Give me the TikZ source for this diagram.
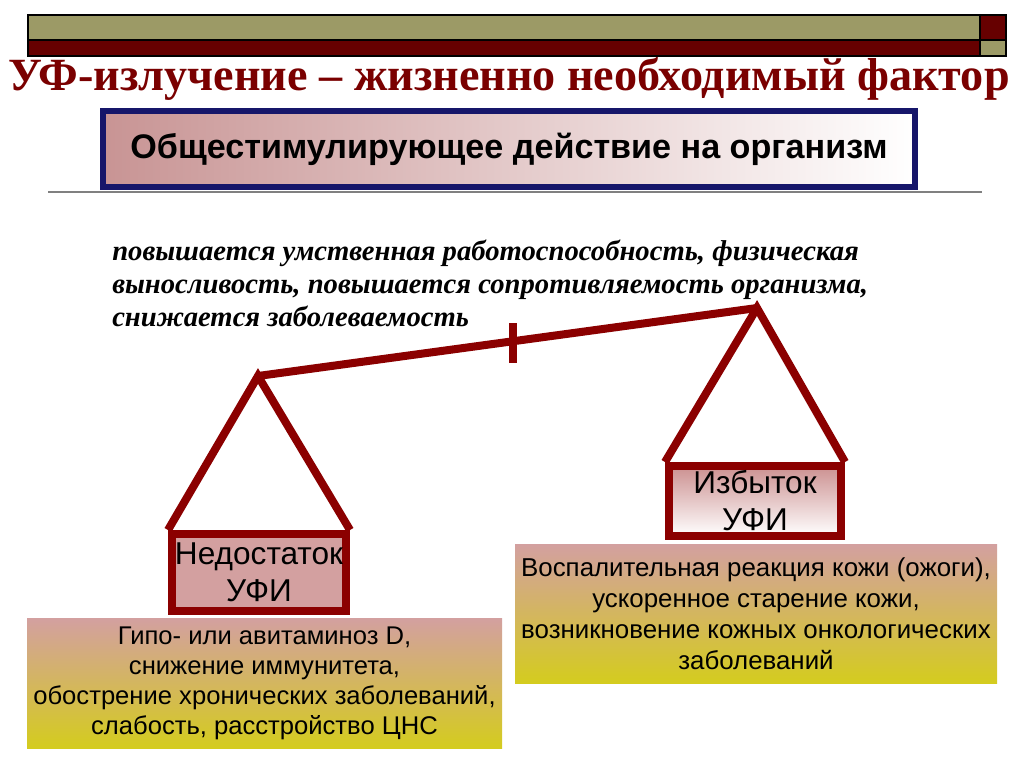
\documentclass[tikz,border=0pt]{standalone}
\usepackage{fontspec}
\setmainfont{Liberation Serif}
\setsansfont{Liberation Sans}
\definecolor{olive}{HTML}{9C9A66}
\definecolor{maroon}{HTML}{660000}
\definecolor{beam}{HTML}{8B0000}
\definecolor{titlered}{HTML}{7A0000}
\definecolor{navy}{HTML}{16166A}
\definecolor{pinkbox}{HTML}{D3A0A0}
\definecolor{yellowbox}{HTML}{D4CC1E}
\definecolor{headpink}{HTML}{C89494}
\tikzset{
  beamline/.style={draw=beam, line width=6pt, line join=miter},
  pan/.style={draw=beam, line width=6pt, font=\sffamily\fontsize{23.7}{27.75}\selectfont, align=center, inner sep=0pt},
  infobox/.style={top color=pinkbox, bottom color=yellowbox, draw=none, font=\sffamily\fontsize{19.2}{22.5}\selectfont, align=center, inner sep=0pt},
}
\begin{document}
\begin{tikzpicture}[x=0.75pt,y=-0.75pt]
\useasboundingbox (0,0) rectangle (1024,767);
% top bar
\fill[olive] (28,15) rectangle (980,40);
\fill[maroon] (980,15) rectangle (1006,40);
\fill[maroon] (28,40) rectangle (980,56);
\fill[olive] (980,40) rectangle (1006,56);
\draw[black, line width=0.8pt] (28,15) rectangle (1006,56) (980,15) -- (980,56) (28,40) -- (1006,40);
% title
\node[text=titlered, font=\bfseries\fontsize{34.6}{40}\selectfont] (title) at (509,79) {УФ-излучение – жизненно необходимый фактор};
% gray line
\draw[gray, line width=0.8pt] (48,192) -- (982,192);
% header box
\node[left color=headpink, right color=white, draw=navy, line width=4.5pt, minimum width=609pt, minimum height=57pt, inner sep=0pt,
      font=\sffamily\bfseries\fontsize{25.6}{30}\selectfont] (head) at (509,149) {Общестимулирующее действие на организм};
% italic text
\node[anchor=north west, align=left, inner sep=0pt, font=\bfseries\itshape\fontsize{21.5}{24.75}\selectfont] (effects) at (112,240)
  {повышается умственная работоспособность, физическая\\выносливость, повышается сопротивляемость организма,\\снижается заболеваемость};
% pans
\node[pan, fill=pinkbox, minimum width=130.5pt, minimum height=57.75pt] (lack) at (259,572.5) {Недостаток\\УФИ};
\node[pan, top color=pinkbox!90!beam, bottom color=white, minimum width=129pt, minimum height=52.5pt] (excess) at (755,501) {Избыток\\УФИ};
% info boxes
\node[infobox, minimum width=356.25pt, minimum height=97.5pt] (lackinfo) at (264.5,683)
  {Гипо- или авитаминоз D,\\снижение иммунитета,\\обострение хронических заболеваний,\\слабость, расстройство ЦНС};
\node[infobox, font=\sffamily\fontsize{19.4}{23.25}\selectfont, minimum width=361.5pt, minimum height=104.25pt] (excessinfo) at (756,613.5)
  {Воспалительная реакция кожи (ожоги),\\ускоренное старение кожи,\\возникновение кожных онкологических\\заболеваний};
% balance
\coordinate (lapex) at (258,376);
\coordinate (rapex) at (757,308);
\coordinate (pivot) at (513,343);
\coordinate (pivtop) at (513,323);
\coordinate (pivbot) at (513,363);
\draw[beamline] (lack.north west) -- (lapex) -- (lack.north east);
\draw[beamline] (excess.north west) -- (rapex) -- (excess.north east);
\draw[beamline, line join=round] (lapex) -- (rapex);
\draw[beamline] (pivtop) -- (pivbot);
\end{tikzpicture}
\end{document}
